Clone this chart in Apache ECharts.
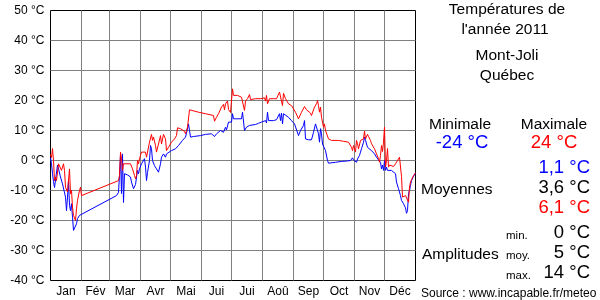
<!DOCTYPE html>
<html>
<head>
<meta charset="utf-8">
<script src="https://cdn.jsdelivr.net/npm/echarts@6/dist/echarts.min.js"></script>
<style>
html,body{margin:0;padding:0;background:#fff;}
#chart{width:600px;height:300px;}
</style>
</head>
<body>
<div id="chart"></div>
<script>
// Month names and day-of-year positions
const monthNames = ['Jan','Fév','Mar','Avr','Mai','Jui','Jui','Aoû','Sep','Oct','Nov','Déc'];
const monthStarts = [31,59,90,120,151,181,212,243,273,304,334];
const monthMids = [15.5,45,74.5,105,135.5,166,196.5,227.5,258,288.5,319,349.5];
const yLabelValues = [-40,-30,-20,-10,0,10,20,30,40,50];
const yGridValues = [-30,-20,-10,0,10,20,30,40];
const X_MIN = 0, X_MAX = 365, Y_MIN = -40, Y_MAX = 50;

// Daily maximum temperatures [day of year, °C]
const maxPoints = [
[0,2],[1,1],[2,4],[3,0],[4,-6.7],[5,-5.5],[6,-6.7],[8,-1.1],[10,-1.1],[11,-3.3],[13,-1.1],[14,-3.3],
[15,-8.9],[16,-8.3],[17,-10.5],[19,-2.8],[20,-11.1],[21,-10],[22,-15.5],[23,-18.3],[25,-20],[26,-16.1],
[27,-13.3],[29,-10],[30,-8.9],[31,-11.7],
[68,-6.7],[69,-5],[70,2.8],[71,0.6],[72,-3.3],[73,-1.1],[80,-1.1],[82,-2.8],[84,-5],[85,-6.1],[86,-5],
[87,0],[88,-1.1],[89,0.6],[90,1.7],[91,2.8],[93,2.4],[95,2.8],[96,1.1],[97,1.7],[99,6.1],[100,6.7],
[101,8.7],[102,6.7],[103,7.8],[105,5],[106,2.8],[108,5.5],[110,8.3],[111,5.5],[113,8.7],[115,7.2],
[116,3.3],[118,4.4],[121,6.1],[124,7.2],[126,8.3],[127,10.9],[130,10.6],[131,10],[134,9.7],[135,8.9],
[137,11.1],[138,11.7],[139,16.9],[141,16.7],[148,16.1],[155,15.6],[163,15],[164,13.1],[166,14.4],
[168,15.6],[171,17.8],[173,18.7],[174,16.9],[175,18.9],[177,19.8],[178,17],[180,16],[181,15.6],
[182,23.9],[183,21.7],[185,22.2],[187,21.7],[191,21.1],[193,20.6],[194,16.7],[195,19.8],[197,20.6],
[199,22],[200,20.3],[205,20.6],[210,20.6],[211,20.2],[214,20.9],[215,19.8],[216,21.7],[217,18.9],
[219,20.6],[223,20.6],[226,20.6],[228,20.6],[229,22.8],[231,22.8],[232,18.3],[233,22.4],[235,20.6],
[236,20],[238,18.9],[241,18.3],[245,16.1],[248,13.9],[251,16.1],[254,18],[256,16.9],[260,15.8],
[261,15],[264,17.8],[266,18.9],[267,20],[268,18.3],[269,16.1],[270,17.8],[271,14.4],[272,15],
[273,11.1],[274,12.2],[275,10],[276,10.6],[278,7.2],[281,6.7],[288,6.7],[293,6.4],[298,6.1],
[300,5.6],[301,4.4],[302,3.3],[303,5],[304,4.4],[305,2.8],[306,6.7],[307,5.6],[308,3.9],[310,6.7],
[311,6.1],[313,7.2],[314,9.8],[315,7.2],[317,8.7],[318,8],[320,6.7],[321,5.6],[324,3.9],[326,2.2],
[328,0.6],[329,-0.6],[330,1.7],[331,5],[332,3],[333,6.1],[334,11.1],[335,-2.2],[336,0],[337,4],
[338,-2.2],[339,-1.5],[341,-1.7],[343,-2],[345,-1.1],[347,0],[349,1.1],[350,0.5],[351,-5.3],
[352,-12.2],[355,-11.7],[357,-11.1],[358,-13.9],[359,-8.9],[360,-7.2],[361,-6.4],[363,-5],[365,-4.1]
];

// Daily minimum temperatures [day of year, °C]
const minPoints = [
[0,1],[1,-1.1],[2,-4.4],[3,-7],[4,-9],[6,-9],[7,-1.5],[9,-1.1],[10,-5.5],[12,-7.8],[14,-8.3],
[15,-12.2],[16,-16.7],[17,-12.2],[18,-6.7],[19,-15],[20,-16.7],[21,-14.4],[22,-18.9],[23,-23.3],
[24,-23.9],[26,-21.1],[27,-19.4],[29,-18.3],[30,-18],
[66,-11.7],[68,-10.6],[69,-5],[70,1.7],[71,-11],[72,2.2],[73,-14],[74,-4.4],[77,-4.8],[80,-5.5],
[81,-7.2],[83,-9.4],[84,-10],[85,-8],[87,-3.3],[88,-4.4],[89,-2.8],[91,-1.1],[92,-1.7],[94,0.6],
[95,-2.2],[96,-6.7],[97,-4],[99,0],[100,5],[101,3.9],[102,0],[104,-1.7],[106,-2.8],[108,-3.9],
[110,-1.1],[111,1.1],[113,2.2],[115,1.1],[116,2.2],[118,2.8],[121,3.3],[125,3.9],[126,4.4],[128,5],
[130,5.6],[132,6.7],[135,7.8],[136,9.1],[137,9.4],[138,12.2],[139,10],[140,7.8],[143,8],[150,8.3],
[155,8.7],[161,8.9],[164,8],[166,8.9],[170,10],[172,10.6],[173,9.4],[175,11.1],[176,10.2],
[178,12.8],[179,12.2],[181,12.8],[182,15.6],[183,13.9],[191,13.9],[192,16.1],[193,15.6],[194,10],
[196,11.1],[199,11.7],[201,11.4],[205,12],[208,12.4],[211,12.8],[215,13.3],[216,12.5],[217,16.1],
[218,13.3],[220,13.6],[223,13.3],[226,13.6],[229,15.6],[230,13.3],[231,15.8],[232,12.2],[233,15.6],
[235,15.6],[238,14.4],[241,13.3],[243,12.8],[244,12.2],[248,8.3],[250,10],[253,11.7],[254,13.3],
[255,7.2],[258,6.9],[261,6.9],[263,9.4],[265,12.2],[267,12.8],[268,8.9],[269,6.1],[270,10.6],
[271,8.9],[272,5.5],[273,5],[275,3.3],[276,3],[277,0],[278,-0.9],[285,-0.6],[291,-0.3],[296,-0.2],
[300,0],[302,0.9],[303,0.2],[304,0.2],[305,0.5],[306,-0.6],[307,0.5],[309,1.7],[310,2.8],[311,3.9],
[313,6.1],[314,7.8],[315,6.7],[317,4.4],[319,3.9],[321,3.3],[324,2.2],[326,1.1],[328,0.2],
[330,-0.6],[331,-2.8],[332,-1.5],[333,-3.3],[334,0],[335,-3.3],[336,-2.2],[337,-3.3],[339,-2.8],
[341,-3.3],[343,-3.9],[345,-4.4],[346,-7.2],[348,-9.4],[350,-11.7],[351,-13.3],[353,-14.4],
[355,-15.8],[356,-17.6],[357,-16.7],[358,-11.1],[359,-10],[360,-8.3],[361,-6.7],[363,-5.3],[365,-4.2]
];

// Side panel texts
const titleLines = ['Températures de', "l'année 2011"];
const placeLines = ['Mont-Joli', 'Québec'];
const extremeLabels = ['Minimale', 'Maximale'];
const extremeValues = ['-24 °C', '24 °C'];
const meanValues = ['1,1 °C', '3,6 °C', '6,1 °C'];
const amplitudeLabels = ['min.', 'moy.', 'max.'];
const amplitudeValues = ['0 °C', '5 °C', '14 °C'];
const sourceText = 'Source : www.incapable.fr/meteo';

const FONT = '"Liberation Sans", Arial, sans-serif';
const chart = echarts.init(document.getElementById('chart'), null, {renderer: 'canvas'});

function txt(text, x, y, size, color, align) {
  return {
    type: 'text', x: x, y: y, silent: true,
    style: {text: text, font: size + 'px ' + FONT, fill: color, align: align || 'center', verticalAlign: 'middle'}
  };
}
const meanColors = ['#0000ff', '#000000', '#ff0000'];
const graphics = [
  txt(titleLines[0], 507, 9.5, 15.5, '#000'),
  txt(titleLines[1], 505, 29.5, 15.5, '#000'),
  txt(placeLines[0], 507, 56, 15.5, '#000'),
  txt(placeLines[1], 507, 76, 15.5, '#000'),
  txt(extremeLabels[0], 460, 124.5, 15.5, '#000'),
  txt(extremeLabels[1], 554, 124.5, 15.5, '#000'),
  txt(extremeValues[0], 462, 143, 18.5, '#0000ff'),
  txt(extremeValues[1], 554, 143, 18.5, '#ff0000'),
  txt('Moyennes', 421, 189.5, 15.5, '#000', 'left'),
  txt('Amplitudes', 422, 254.5, 15.5, '#000', 'left'),
  txt(sourceText, 421, 293.5, 12, '#000', 'left')
];
meanValues.forEach((v, i) => graphics.push(txt(v, 590, 168.3 + i * 20, 18.5, meanColors[i], 'right')));
amplitudeLabels.forEach((v, i) => graphics.push(txt(v, 506, 236 + i * 20, 11.5, '#000', 'left')));
amplitudeValues.forEach((v, i) => graphics.push(txt(v, 590, 233.3 + i * 20, 18.5, '#000', 'right')));

// Grid lines built from the tick values: one broken line series through the axes' scales
const gridPath = [];
monthStarts.forEach(d => { gridPath.push([d, Y_MIN], [d, Y_MAX], [d, '-']); });
yGridValues.forEach(v => { gridPath.push([X_MIN, v], [X_MAX, v], [X_MAX, '-']); });

const option = {
  animation: false,
  backgroundColor: '#fff',
  grid: {left: 50.5, top: 10.5, width: 365, height: 270, show: true, borderColor: '#000', borderWidth: 1, backgroundColor: 'transparent'},
  xAxis: {
    type: 'value', min: X_MIN, max: X_MAX,
    axisLine: {show: false},
    axisTick: {show: false},
    splitLine: {show: false},
    axisLabel: {
      customValues: monthMids, color: '#000', fontSize: 12, fontFamily: FONT, margin: 5,
      formatter: v => monthNames[monthMids.indexOf(v)] || ''
    }
  },
  yAxis: {
    type: 'value', min: Y_MIN, max: Y_MAX, interval: 10,
    axisLine: {show: false},
    axisTick: {show: false},
    splitLine: {show: false},
    axisLabel: {customValues: yLabelValues, color: '#000', fontSize: 12, fontFamily: FONT, margin: 6, formatter: v => v + ' °C'}
  },
  series: [{
    type: 'line', name: 'grille', data: gridPath, showSymbol: false, symbol: 'none', silent: true,
    connectNulls: false, z: 1,
    lineStyle: {color: '#808080', width: 1}, itemStyle: {color: '#808080'}
  }, {
    type: 'line', name: 'min', data: minPoints, showSymbol: false, symbol: 'none',
    lineStyle: {color: '#0000ff', width: 1}, itemStyle: {color: '#0000ff'}, z: 2
  }, {
    type: 'line', name: 'max', data: maxPoints, showSymbol: false, symbol: 'none',
    lineStyle: {color: '#ff0000', width: 1}, itemStyle: {color: '#ff0000'}, z: 3
  }],
  graphic: graphics
};
chart.setOption(option);
</script>
</body>
</html>
